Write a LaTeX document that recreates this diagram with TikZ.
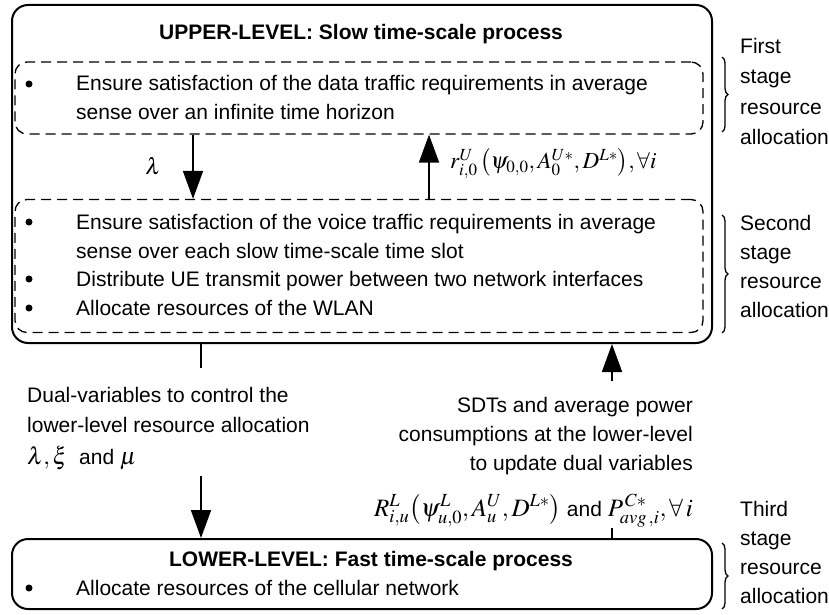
\documentclass[tikz,border=0pt]{standalone}
\usepackage{mathptmx}
\usepackage[no-math]{fontspec}
\setmainfont{Liberation Sans}
\usetikzlibrary{arrows.meta,decorations.pathreplacing}
\tikzset{
  solidbox/.style={draw,line width=2pt,rounded corners=16pt,inner sep=0pt},
  dashbox/.style={draw,line width=1.3pt,rounded corners=12pt,dash pattern=on 10pt off 6pt,inner sep=0pt},
  txt/.style={inner sep=0pt,font=\fontsize{21}{29}\selectfont},
  ttl/.style={inner sep=0pt,font=\fontsize{21}{29}\selectfont\bfseries},
  mth/.style={inner sep=0pt,font=\fontsize{23}{28}\selectfont},
  bul/.style={circle,fill,inner sep=0pt,minimum size=7pt},
  arr/.style={line width=1.8pt,-{Triangle[width=20pt,length=28pt]}},
  ln/.style={line width=1.8pt},
  brc/.style={line width=1.3pt,decorate,decoration={brace,amplitude=6pt}}
}
\begin{document}
\begin{tikzpicture}[x=1pt,y=-1pt]
\useasboundingbox (0,0) rectangle (829,615);
% boxes
\node[solidbox,minimum width=700pt,minimum height=338pt] (upper) at (362,174) {};
\node[dashbox,minimum width=688pt,minimum height=72pt] (d1) at (359,98) {};
\node[dashbox,minimum width=688pt,minimum height=133pt] (d2) at (359,266) {};
\node[solidbox,minimum width=700pt,minimum height=70pt] (lower) at (362,574) {};
% upper title and texts
\node[ttl,anchor=base] (ut) at (361,40) {UPPER-LEVEL: Slow time-scale process};
\node[bul] (b1) at (29,84) {};
\node[txt,anchor=base west] (t1a) at (76,91) {Ensure satisfaction of the data traffic requirements in average};
\node[txt,anchor=base west] (t1b) at (76,120) {sense over an infinite time horizon};
\node[bul] (b2) at (29,222) {};
\node[txt,anchor=base west] (t2a) at (76,229) {Ensure satisfaction of the voice traffic requirements in average};
\node[txt,anchor=base west] (t2b) at (76,258) {sense over each slow time-scale time slot};
\node[bul] (b3) at (29,279) {};
\node[txt,anchor=base west] (t3) at (76,286) {Distribute UE transmit power between two network interfaces};
\node[bul] (b4) at (29,308) {};
\node[txt,anchor=base west] (t4) at (76,315) {Allocate resources of the WLAN};
% arrows between dashed boxes
\coordinate (xa) at (193,0);
\coordinate (xb) at (429,0);
\draw[arr] (d1.south -| xa) -- (d2.north -| xa);
\draw[arr] (d2.north -| xb) -- (d1.south -| xb);
\node[mth] (lam) at (153,166) {$\lambda$};
\node[mth,anchor=west] (rf) at (450,164) {$r_{i,0}^{U}\left(\psi_{0,0}, A_{0}^{U*}, D^{L*}\right)\!, \forall i$};
% middle
\coordinate (xc) at (201,0);
\coordinate (xd) at (612,0);
\coordinate (c1) at (201,368);
\coordinate (c2) at (201,476);
\coordinate (c3) at (612,381);
\coordinate (c4) at (612,528);
\draw[ln] (upper.south -| xc) -- (c1);
\draw[arr] (c2) -- (lower.north -| xc);
\draw[arr] (c3) -- (upper.south -| xd);
\draw[ln] (c4) -- (lower.north -| xd);
\node[txt,anchor=base west] (l1) at (27,402) {Dual-variables to control the};
\node[txt,anchor=base west] (l2) at (27,432) {lower-level resource allocation};
\node[txt,anchor=base west] (l3) at (27,464) {{\fontsize{24}{28}\selectfont$\lambda, \xi$}\ \ and\ {\fontsize{24}{28}\selectfont$\mu$}};
\node[txt,anchor=base east] (r1) at (693,412) {SDTs and average power};
\node[txt,anchor=base east] (r2) at (693,441) {consumptions at the lower-level};
\node[txt,anchor=base east] (r3) at (693,470) {to update dual variables};
\node[txt,anchor=base east] (r4) at (693,516) {{\fontsize{25}{28}\selectfont$R_{i,u}^{L}\bigl(\psi_{u,0}^{L}, A_{u}^{U}, D^{L*}\bigr)$} and {\fontsize{25}{28}\selectfont$P_{avg\,,i}^{\,C*}, \forall\, i$}};
% lower texts
\node[ttl,anchor=base] (lt) at (371,566) {LOWER-LEVEL: Fast time-scale process};
\node[bul] (b5) at (29,588) {};
\node[txt,anchor=base west] (t5) at (76,595) {Allocate resources of the cellular network};
% braces
\draw[brc] (722,57) -- (722,132);
\draw[brc] (722,215) -- (722,333);
\draw[brc] (722,543) -- (722,609);
\node[txt,anchor=base west] (s1a) at (740,54) {First};
\node[txt,anchor=base west] (s1b) at (740,84) {stage};
\node[txt,anchor=base west] (s1c) at (740,114) {resource};
\node[txt,anchor=base west] (s1d) at (740,144) {allocation};
\node[txt,anchor=base west] (s2a) at (740,230) {Second};
\node[txt,anchor=base west] (s2b) at (740,259) {stage};
\node[txt,anchor=base west] (s2c) at (740,288) {resource};
\node[txt,anchor=base west] (s2d) at (740,317) {allocation};
\node[txt,anchor=base west] (s3a) at (740,516) {Third};
\node[txt,anchor=base west] (s3b) at (740,545) {stage};
\node[txt,anchor=base west] (s3c) at (740,574) {resource};
\node[txt,anchor=base west] (s3d) at (740,603) {allocation};
\end{tikzpicture}
\end{document}
